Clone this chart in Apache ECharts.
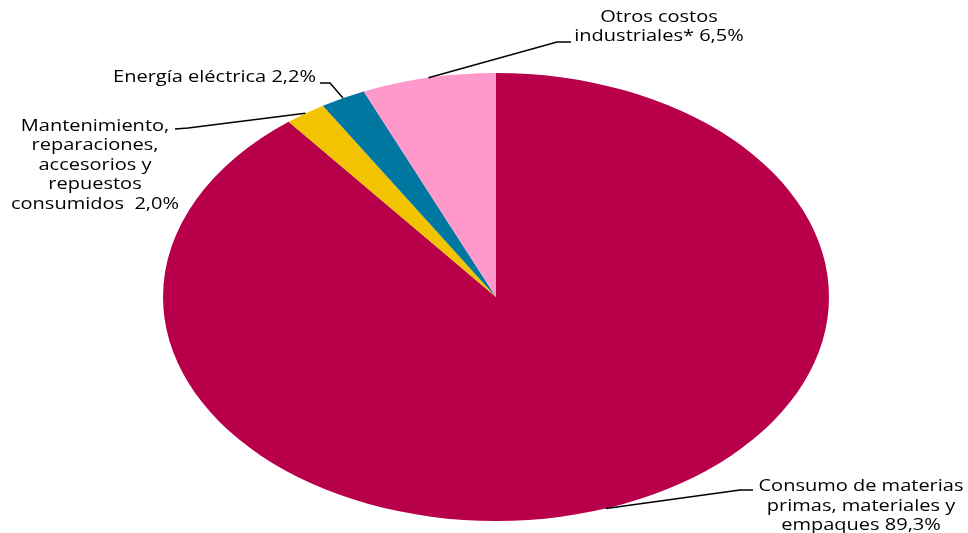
<!DOCTYPE html>
<html>
<head>
<meta charset="utf-8">
<script src="https://cdn.jsdelivr.net/npm/echarts@6/dist/echarts.min.js"></script>
<style>
html,body{margin:0;padding:0;background:#fff;}
#chart{width:968px;height:533px;}
</style>
</head>
<body>
<div id="chart"></div>
<script>
// ---- data ----
const categories = [
  'Consumo de materias\nprimas, materiales y\nempaques',
  'Mantenimiento,\nreparaciones,\naccesorios y\nrepuestos\nconsumidos ',
  'Energía eléctrica',
  'Otros costos\nindustriales*'
];
const values = [89.3, 2.0, 2.2, 6.5];
const colors = ['#B8004A', '#F2C300', '#0077A1', '#FF99CC'];

// ---- layout (positions only) ----
const pieLayout = { cx: 496, cy: 297, rx: 333, ry: 224 };
const labelLayout = [
  { elbow: [740, 490], end: [753, 490], text: [861, 506], align: 'center' },
  { elbow: [188, 128], end: [175, 129], text: [95, 165], align: 'center' },
  { elbow: [330, 83],  end: [320, 83],  text: [316, 77], align: 'right' },
  { elbow: [557, 42],  end: [571, 42],  text: [659, 27], align: 'center' }
];
const textStretch = 1.25;

const total = values.reduce((a, b) => a + b, 0);
const fmt = v => v.toFixed(1).replace('.', ',') + '%';

const chart = echarts.init(document.getElementById('chart'));
chart.setOption({
  animation: false,
  series: [{
    type: 'custom',
    coordinateSystem: 'none',
    data: values.map((v, i) => ({ value: v, name: categories[i] })),
    renderItem: function (params, api) {
      const i = params.dataIndex;
      let cum = 0;
      for (let k = 0; k < i; k++) cum += values[k];
      const a0 = -Math.PI / 2 + 2 * Math.PI * cum / total;
      const a1 = -Math.PI / 2 + 2 * Math.PI * (cum + values[i]) / total;
      const mid = (a0 + a1) / 2;
      const P = pieLayout;
      const ax = P.cx + P.rx * Math.cos(mid);
      const ay = P.cy + P.ry * Math.sin(mid);
      const L = labelLayout[i];
      return {
        type: 'group',
        children: [
          {
            type: 'sector',
            x: P.cx, y: P.cy,
            scaleX: 1, scaleY: P.ry / P.rx,
            shape: { cx: 0, cy: 0, r0: 0, r: P.rx, startAngle: a0, endAngle: a1, clockwise: true },
            style: { fill: colors[i], stroke: null }
          },
          {
            type: 'polyline',
            z2: 10,
            shape: { points: [[ax, ay], L.elbow, L.end] },
            style: { stroke: '#000', lineWidth: 1.5, fill: null }
          },
          {
            type: 'text',
            z2: 10,
            x: L.text[0], y: L.text[1],
            scaleX: textStretch, scaleY: 1,
            style: {
              text: categories[i] + ' ' + fmt(values[i]),
              x: 0, y: 0,
              align: L.align, verticalAlign: 'middle',
              textAlign: L.align, textVerticalAlign: 'middle',
              fontFamily: '"Open Sans", "Noto Sans", sans-serif',
              fontSize: 16,
              lineHeight: 19.5,
              fill: '#000'
            }
          }
        ]
      };
    }
  }]
});
</script>
</body>
</html>
